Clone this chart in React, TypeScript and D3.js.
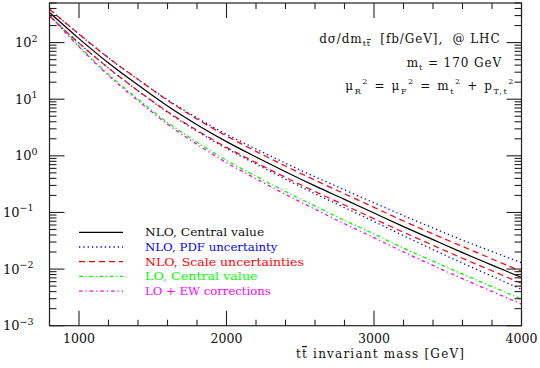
import React, { useEffect, useRef } from 'react';
import * as d3 from 'd3';

// invariant mass grid [GeV]
const massGeV = [800, 1000, 1200, 1400, 1600, 1800, 2000, 2200, 2400, 2600, 2800, 3000, 3200, 3400, 3600, 3800, 4000];

// d sigma / d m_tt  [fb/GeV]
const nloCentral = [339, 117.5, 43.6, 17.8, 7.59, 3.55, 1.78, 0.955, 0.525, 0.295, 0.17, 0.0977, 0.0562, 0.0331, 0.0195, 0.01175, 0.00708];
const nloPdfUp = [389, 141, 53.7, 22.4, 9.77, 4.68, 2.4, 1.32, 0.741, 0.427, 0.251, 0.148, 0.0881, 0.0531, 0.0324, 0.0204, 0.0129];
const nloPdfDown = [295, 97.7, 35.5, 14.1, 5.89, 2.72, 1.35, 0.716, 0.389, 0.214, 0.122, 0.0692, 0.0389, 0.0221, 0.0127, 0.0075, 0.00437];
const nloScaleUp = [389, 141.3, 53.7, 22.4, 9.55, 4.47, 2.24, 1.2, 0.661, 0.372, 0.214, 0.123, 0.0708, 0.0417, 0.0251, 0.0151, 0.00912];
const nloScaleDown = [295, 97.7, 35.5, 14.1, 6.03, 2.82, 1.41, 0.759, 0.417, 0.234, 0.135, 0.0776, 0.0447, 0.0263, 0.0155, 0.00933, 0.00562];
const loCentral = [309, 87.1, 27.5, 10.0, 3.89, 1.74, 0.832, 0.437, 0.234, 0.129, 0.0724, 0.0417, 0.0234, 0.0138, 0.00813, 0.0049, 0.00295];
const loEw = [302, 84.1, 26.3, 9.44, 3.63, 1.6, 0.759, 0.394, 0.209, 0.114, 0.0631, 0.0359, 0.02, 0.0116, 0.00676, 0.00403, 0.0024];

const xMajorTicks = [1000, 2000, 3000, 4000];
const yDecades = [-3, -2, -1, 0, 1, 2];

const legendLabels = ['NLO, Central value', 'NLO, PDF uncertainty', 'NLO, Scale uncertainties', 'LO, Central value', 'LO + EW corrections'];

const serif = '"DejaVu Serif", "Liberation Serif", serif';

const App = () => {
  const svgRef = useRef(null);

  useEffect(() => {
    const svgEl = svgRef.current;
    if (!svgEl) return;
    const svg = d3.select(svgEl);
    svg.selectAll('*').remove();

    const width = 540;
    const height = 368;
    const plot = { left: 49.5, right: 521.5, top: 3, bottom: 325.7 };

    const x = d3.scaleLinear().domain([800, 4000]).range([plot.left, plot.right]);
    const y = d3.scaleLog().domain([1e-3, 500]).range([plot.bottom, plot.top]);

    svg.attr('viewBox', `0 0 ${width} ${height}`);

    const series = [
      { values: nloCentral, color: '#000000', dash: null, w: 1.2, legend: 0 },
      { values: nloPdfUp, color: '#0000ff', dash: '1.3 3', w: 1.3, legend: 1 },
      { values: nloPdfDown, color: '#0000ff', dash: '1.3 3', w: 1.3, legend: -1 },
      { values: nloScaleUp, color: '#ff0000', dash: '6 4', w: 1.2, legend: 2 },
      { values: nloScaleDown, color: '#ff0000', dash: '6 4', w: 1.2, legend: -1 },
      { values: loCentral, color: '#00ff00', dash: '4 2.5 1.2 2.5', w: 1.3, legend: 3 },
      { values: loEw, color: '#ff00ff', dash: '3.5 3 1.2 3', w: 1.3, legend: 4 },
    ];

    svg.append('defs').append('clipPath').attr('id', 'plot-clip')
      .append('rect')
      .attr('x', plot.left).attr('y', plot.top)
      .attr('width', plot.right - plot.left).attr('height', plot.bottom - plot.top);

    const line = d3.line()
      .x((d) => x(d[0]))
      .y((d) => y(d[1]))
      .curve(d3.curveMonotoneX);

    const curves = svg.append('g').attr('clip-path', 'url(#plot-clip)');
    series.forEach((s) => {
      curves.append('path')
        .datum(massGeV.map((m, i) => [m, s.values[i]]))
        .attr('fill', 'none')
        .attr('stroke', s.color)
        .attr('stroke-width', s.w)
        .attr('stroke-dasharray', s.dash)
        .attr('d', line);
    });

    // frame
    svg.append('rect')
      .attr('x', plot.left).attr('y', plot.top)
      .attr('width', plot.right - plot.left).attr('height', plot.bottom - plot.top)
      .attr('fill', 'none').attr('stroke', '#222').attr('stroke-width', 1.2);

    const ticks = svg.append('g').attr('stroke', '#222').attr('stroke-width', 1.1);

    // x ticks, top and bottom
    d3.range(800, 4001, 200).forEach((v) => {
      const len = v % 1000 === 0 ? 15 : 6;
      const px = x(v);
      ticks.append('line').attr('x1', px).attr('x2', px).attr('y1', plot.bottom).attr('y2', plot.bottom - len);
      ticks.append('line').attr('x1', px).attr('x2', px).attr('y1', plot.top).attr('y2', plot.top + len);
    });

    // y ticks, left and right
    yDecades.forEach((e) => {
      d3.range(1, 10).forEach((k) => {
        const v = k * Math.pow(10, e);
        if (v > 500) return;
        const len = k === 1 ? 15 : 7;
        const py = y(v);
        ticks.append('line').attr('x1', plot.left).attr('x2', plot.left + len).attr('y1', py).attr('y2', py);
        ticks.append('line').attr('x1', plot.right).attr('x2', plot.right - len).attr('y1', py).attr('y2', py);
      });
    });

    // x tick labels
    svg.append('g')
      .selectAll('text')
      .data(xMajorTicks)
      .join('text')
      .attr('x', (d) => x(d))
      .attr('y', plot.bottom + 17.5)
      .attr('text-anchor', 'middle')
      .attr('font-family', serif)
      .attr('font-size', 12.5)
      .attr('fill', '#111')
      .text((d) => d);

    // y tick labels
    yDecades.forEach((e) => {
      const t = svg.append('text')
        .attr('x', e < 0 ? 3 : 15)
        .attr('y', y(Math.pow(10, e)) + 4.5)
        .attr('font-family', serif)
        .attr('font-size', 13)
        .attr('fill', '#111');
      t.append('tspan').text('10');
      t.append('tspan').attr('dy', -5.5).attr('font-size', 9.5).text(e < 0 ? `\u2212${-e}` : `${e}`);
    });

    // x axis title
    const xt = svg.append('text')
      .attr('x', 296)
      .attr('y', 358)
      .attr('font-family', serif)
      .attr('font-size', 12)
      .attr('fill', '#111')
      .attr('textLength', 168)
      .attr('lengthAdjust', 'spacing')
      .style('white-space', 'pre');
    xt.append('tspan').text('t');
    xt.append('tspan').style('text-decoration', 'overline').text('t');
    xt.append('tspan').text(' invariant mass [GeV]');

    // annotations
    const ann = (yy, xx, sp) => svg.append('text')
      .attr('x', xx).attr('y', yy)
      .attr('text-anchor', 'end')
      .attr('font-family', serif)
      .attr('font-size', 12)
      .attr('letter-spacing', sp)
      .attr('fill', '#111')
      .style('white-space', 'pre');

    const a1 = ann(42.7, 500.5, 0.9);
    a1.append('tspan').text('d\u03c3/dm');
    a1.append('tspan').attr('dy', 3.5).attr('font-size', 8).text('t');
    a1.append('tspan').attr('font-size', 8).style('text-decoration', 'overline').text('t');
    a1.append('tspan').attr('dy', -3.5).text('  [fb/GeV],  @ LHC');

    const a2 = ann(66.7, 502, 0.9);
    a2.append('tspan').text('m');
    a2.append('tspan').attr('dy', 3.5).attr('font-size', 8).text('t');
    a2.append('tspan').attr('dy', -3.5).text(' = 170 GeV');

    const a3 = ann(90, 515, 1.6);
    const parts = [['\u03bc', 'R', ' = '], ['\u03bc', 'F', ' = '], ['m', 't', ' + '], ['p', 'T,t', '']];
    parts.forEach(([base, sub, after]) => {
      a3.append('tspan').text(base);
      a3.append('tspan').attr('dy', 3.5).attr('font-size', 8).text(sub);
      a3.append('tspan').attr('dy', -10).attr('font-size', 8).text('2');
      a3.append('tspan').attr('dy', 6.5).text(after);
    });

    // legend
    const legend = svg.append('g');
    series.filter((s) => s.legend >= 0).forEach((s) => {
      const ly = 232.3 + s.legend * 14.7;
      legend.append('line')
        .attr('x1', 79).attr('x2', 123).attr('y1', ly).attr('y2', ly)
        .attr('stroke', s.color)
        .attr('stroke-width', s.w)
        .attr('stroke-dasharray', s.dash);
      const label = legendLabels[s.legend];
      legend.append('text')
        .attr('x', 145)
        .attr('y', ly + 4)
        .attr('font-family', serif)
        .attr('font-size', 11.5)
        .attr('fill', s.color === '#000000' ? '#111' : s.color)
        .attr('textLength', label.length * 6.62)
        .attr('lengthAdjust', 'spacingAndGlyphs')
        .style('white-space', 'pre')
        .text(label);
    });
  }, []);

  return (
    <svg
      ref={svgRef}
      width={540}
      height={368}
      style={{ position: 'absolute', left: 0, top: 0, background: '#fff' }}
    />
  );
};

export default App;
